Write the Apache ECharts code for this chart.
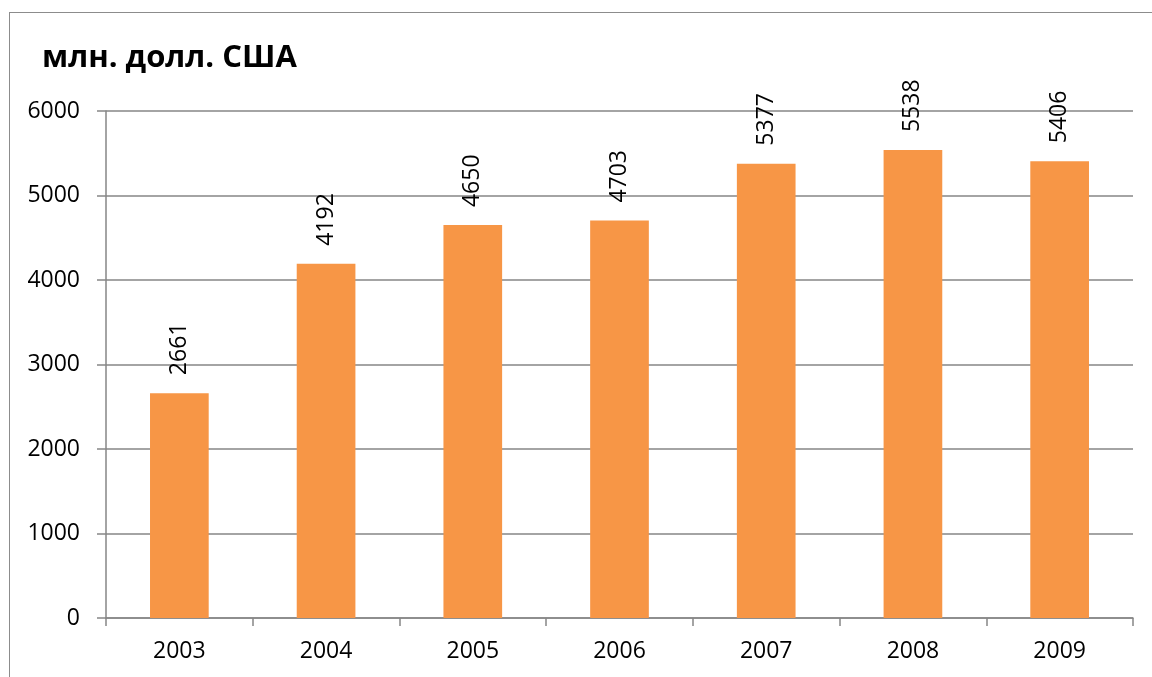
<!DOCTYPE html>
<html>
<head>
<meta charset="utf-8">
<script src="https://cdn.jsdelivr.net/npm/echarts@6/dist/echarts.min.js"></script>
<style>
  * { margin: 0; padding: 0; }
  body { background: #fff; }
  #frame { position: absolute; left: 9px; top: 12px; width: 1200px; height: 700px; border: 1px solid #8c8c8c; }
  #main { position: absolute; left: 0; top: 0; width: 1152px; height: 677px; }
</style>
</head>
<body>
<div id="frame"></div>
<div id="main"></div>
<script>
  // данные
  var years = ['2003', '2004', '2005', '2006', '2007', '2008', '2009'];
  var values = [2661, 4192, 4650, 4703, 5377, 5538, 5406];

  var chart = echarts.init(document.getElementById('main'));
  var font = 'Open Sans';
  chart.setOption({
    animation: false,
    title: {
      text: 'млн. долл. США',
      left: 37,
      top: 38,
      textStyle: { fontFamily: font, fontSize: 31, fontWeight: 'bold', color: '#000' }
    },
    grid: { left: 106, right: 19, top: 111, bottom: 59 },
    xAxis: {
      type: 'category',
      data: years,
      boundaryGap: true,
      axisLine: { lineStyle: { color: '#868686', width: 1.5 } },
      axisTick: { show: true, length: 8, lineStyle: { color: '#868686', width: 1.5 } },
      axisLabel: { margin: 22, color: '#000', fontSize: 23, fontFamily: font }
    },
    yAxis: {
      type: 'value',
      min: 0,
      max: 6000,
      interval: 1000,
      axisLine: { show: true, lineStyle: { color: '#868686', width: 1.5 } },
      axisTick: { show: true, length: 9, lineStyle: { color: '#868686', width: 1.5 } },
      axisLabel: {
        margin: 26, color: '#000', fontSize: 23, fontFamily: font,
        formatter: function (v) { return String(v); }
      },
      splitLine: { lineStyle: { color: '#868686', width: 1.5 } }
    },
    series: [{
      type: 'bar',
      data: values,
      barWidth: '40%',
      itemStyle: { color: '#F79646' },
      label: {
        show: true,
        position: 'top',
        rotate: 90,
        align: 'left',
        verticalAlign: 'middle',
        distance: 18,
        color: '#000',
        fontSize: 23,
        fontFamily: font
      }
    }]
  });
</script>
</body>
</html>
